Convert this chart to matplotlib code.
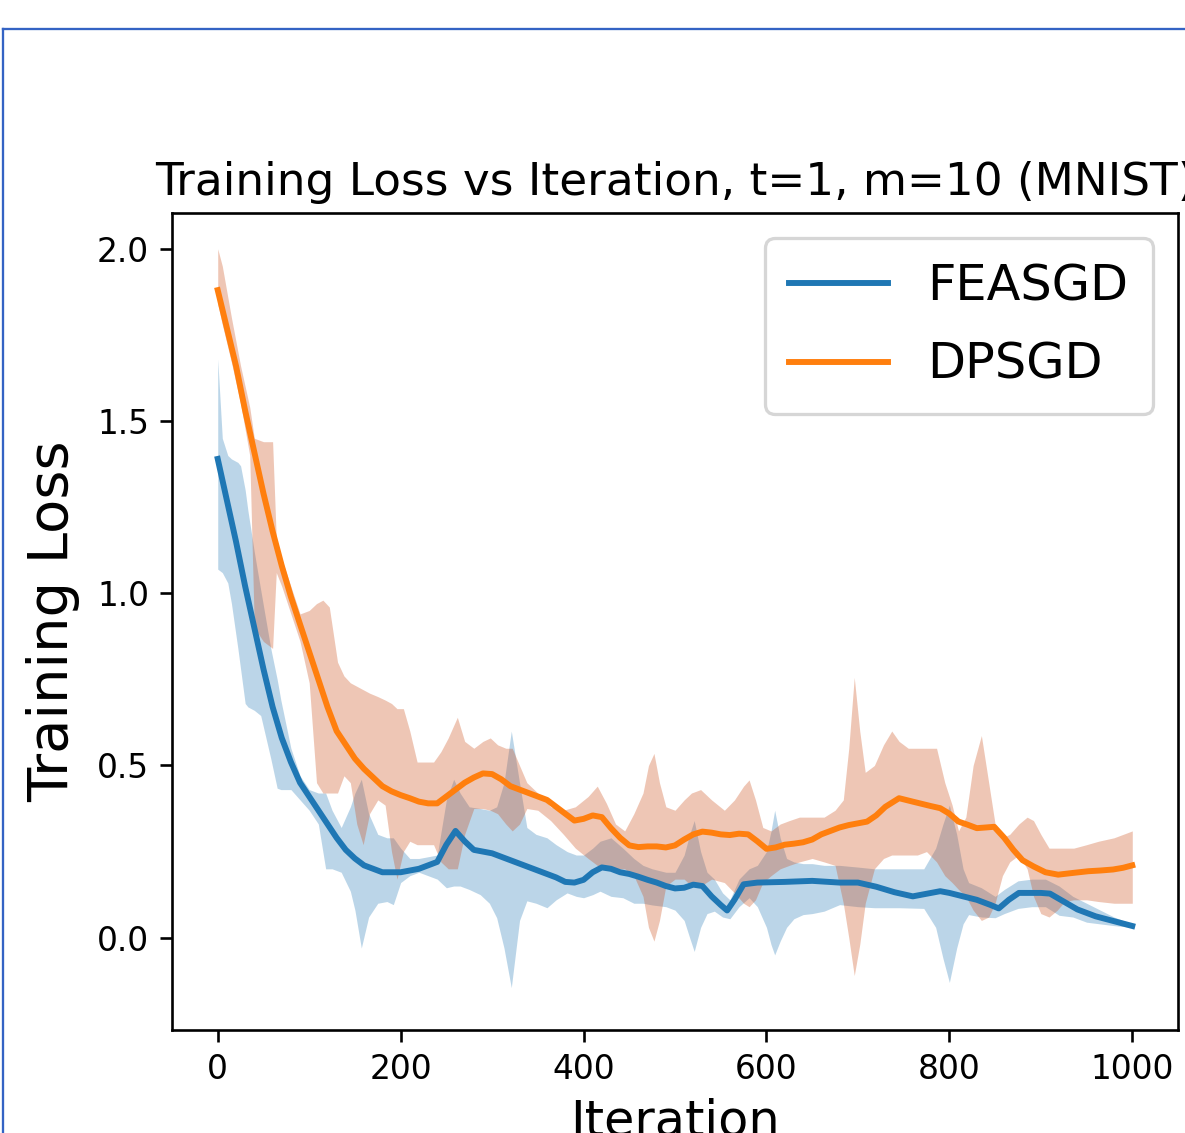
import matplotlib
matplotlib.use("Agg")
import matplotlib.pyplot as plt
from matplotlib.lines import Line2D

# ---------------- data ----------------
fe_x = [0, 10, 20, 30, 40, 50, 60, 70, 80, 90, 100, 110, 120, 130, 140, 150, 160, 170, 180,
        190, 200, 210, 220, 230, 240, 250, 260, 270, 280, 290, 300, 310, 320, 330, 340, 350,
        360, 370, 380, 390, 400, 410, 420, 430, 440, 450, 460, 470, 480, 490, 500, 510, 520,
        530, 540, 550, 557, 565, 575, 590, 620, 650, 680, 700, 720, 740, 760, 780, 790, 800,
        815, 830, 845, 854, 865, 876, 900, 910, 925, 940, 960, 980, 1000]
fe_mean = [1.39, 1.27, 1.15, 1.02, 0.90, 0.78, 0.67, 0.58, 0.51, 0.45, 0.41, 0.37, 0.33, 0.29,
           0.255, 0.23, 0.21, 0.20, 0.19, 0.19, 0.19, 0.195, 0.20, 0.21, 0.22, 0.27, 0.31, 0.28,
           0.255, 0.25, 0.245, 0.235, 0.225, 0.215, 0.205, 0.195, 0.185, 0.175, 0.162, 0.16,
           0.168, 0.19, 0.204, 0.20, 0.19, 0.185, 0.177, 0.168, 0.16, 0.15, 0.143, 0.145, 0.154,
           0.15, 0.12, 0.095, 0.079, 0.11, 0.155, 0.16, 0.162, 0.165, 0.16, 0.16, 0.148, 0.132,
           0.12, 0.13, 0.135, 0.13, 0.12, 0.11, 0.095, 0.085, 0.11, 0.13, 0.13, 0.128, 0.105,
           0.082, 0.062, 0.048, 0.034]

fe_bx = [0, 5, 11, 15, 22, 25, 30, 33, 40, 47, 58, 65, 69, 80, 90, 100, 110, 118, 125, 135,
         145, 150, 157, 165, 175, 185, 192, 200, 210, 220, 230, 240, 250, 258, 265, 275, 287, 297,
         305, 313, 321, 330, 338, 348, 360, 370, 382, 392, 400, 410, 418, 430, 443, 455, 465, 475,
         490, 500, 510, 516, 521, 528, 535, 543, 552, 560, 570, 581, 590, 600, 605, 609, 615, 622,
         630, 640, 650, 663, 680, 700, 718, 745, 772, 785, 793, 800, 808, 815, 821, 835, 850, 860,
         875, 890, 905, 920, 935, 950, 965, 980, 1000]
fe_upper = [1.68, 1.45, 1.40, 1.39, 1.38, 1.37, 1.30, 1.24, 1.12, 1.01, 0.84, 0.75, 0.69, 0.55,
            0.47, 0.43, 0.42, 0.42, 0.37, 0.32, 0.38, 0.42, 0.46, 0.36, 0.30, 0.29, 0.29, 0.26,
            0.23, 0.23, 0.235, 0.24, 0.40, 0.46, 0.42, 0.38, 0.375, 0.37, 0.38, 0.45, 0.60, 0.45,
            0.32, 0.30, 0.29, 0.27, 0.25, 0.24, 0.24, 0.26, 0.28, 0.29, 0.26, 0.23, 0.21, 0.20,
            0.19, 0.19, 0.24, 0.30, 0.34, 0.25, 0.19, 0.17, 0.13, 0.11, 0.17, 0.20, 0.21, 0.25,
            0.31, 0.37, 0.29, 0.23, 0.22, 0.215, 0.215, 0.21, 0.21, 0.205, 0.20, 0.20, 0.20, 0.26,
            0.33, 0.385, 0.30, 0.20, 0.16, 0.145, 0.12, 0.14, 0.165, 0.17, 0.17, 0.15, 0.12, 0.10,
            0.08, 0.06, 0.04]
fe_lower = [1.07, 1.06, 1.03, 0.97, 0.84, 0.78, 0.68, 0.67, 0.66, 0.645, 0.52, 0.434, 0.43,
            0.43, 0.40, 0.37, 0.33, 0.20, 0.20, 0.19, 0.135, 0.08, -0.03, 0.06, 0.10, 0.105,
            0.096, 0.16, 0.18, 0.19, 0.18, 0.17, 0.145, 0.15, 0.15, 0.14, 0.125, 0.10, 0.058,
            -0.03, -0.145, 0.05, 0.107, 0.10, 0.087, 0.11, 0.13, 0.12, 0.116, 0.125, 0.135, 0.12,
            0.116, 0.10, 0.10, 0.095, 0.09, 0.08, 0.05, 0.0, -0.04, 0.03, 0.07, 0.077, 0.06, 0.055,
            0.09, 0.116, 0.09, 0.03, -0.02, -0.05, -0.01, 0.03, 0.055, 0.067, 0.07, 0.077, 0.096,
            0.09, 0.087, 0.087, 0.085, 0.03, -0.06, -0.13, -0.03, 0.04, 0.067, 0.06, 0.058, 0.07,
            0.085, 0.09, 0.09, 0.065, 0.06, 0.045, 0.04, 0.035, 0.03]

dp_x = [0, 10, 20, 30, 40, 50, 60, 70, 80, 90, 100, 110, 120, 130, 140, 150, 160, 170, 180, 190,
        200, 210, 220, 230, 240, 250, 260, 270, 280, 290, 300, 310, 320, 330, 340, 350, 360, 370,
        380, 390, 400, 410, 420, 430, 440, 450, 460, 470, 480, 490, 500, 510, 520, 530, 540, 550,
        560, 570, 580, 590, 600, 610, 620, 630, 640, 650, 660, 670, 680, 690, 700, 710, 720, 730,
        745, 760, 780, 790, 800, 810, 820, 830, 840, 849, 860, 870, 880, 892, 905, 919, 935, 952,
        965, 979, 990, 1000]
dp_mean = [1.88, 1.77, 1.66, 1.53, 1.41, 1.29, 1.18, 1.08, 0.99, 0.91, 0.83, 0.75, 0.67, 0.60,
           0.56, 0.52, 0.49, 0.465, 0.44, 0.425, 0.414, 0.405, 0.395, 0.39, 0.39, 0.41, 0.43, 0.45,
           0.465, 0.477, 0.475, 0.46, 0.44, 0.43, 0.42, 0.41, 0.40, 0.38, 0.36, 0.34, 0.345, 0.355,
           0.35, 0.318, 0.29, 0.268, 0.263, 0.265, 0.265, 0.262, 0.268, 0.285, 0.30, 0.308, 0.305,
           0.30, 0.298, 0.302, 0.30, 0.28, 0.258, 0.262, 0.27, 0.273, 0.277, 0.285, 0.30, 0.31,
           0.32, 0.327, 0.332, 0.337, 0.355, 0.38, 0.405, 0.395, 0.382, 0.376, 0.36, 0.337, 0.328,
           0.318, 0.32, 0.322, 0.29, 0.255, 0.225, 0.207, 0.19, 0.183, 0.188, 0.193, 0.195, 0.198,
           0.203, 0.21]

dp_bx = [0, 5, 15, 25, 35, 40, 50, 60, 64, 70, 80, 90, 100, 108, 115, 122, 131, 138, 145, 152,
         159, 166, 175, 183, 190, 196, 203, 210, 218, 228, 236, 244, 252, 262, 270, 280, 290, 298,
         306, 315, 322, 330, 338, 350, 364, 378, 391, 405, 415, 425, 435, 445, 455, 465, 471, 477,
         483, 490, 500, 510, 518, 528, 540, 554, 565, 575, 581, 588, 596, 605, 615, 625, 636, 650,
         663, 675, 684, 690, 696, 702, 708, 718, 728, 737, 745, 755, 765, 775, 786, 795, 803, 810,
         818, 826, 835, 843, 850, 858, 866, 876, 885, 892, 900, 909, 918, 926, 936, 950, 963, 980,
         1000]
dp_upper = [2.00, 1.95, 1.80, 1.66, 1.54, 1.45, 1.44, 1.44, 1.16, 1.10, 1.02, 0.94, 0.95, 0.97,
            0.98, 0.96, 0.80, 0.76, 0.74, 0.73, 0.72, 0.71, 0.70, 0.69, 0.68, 0.665, 0.665, 0.60,
            0.51, 0.51, 0.51, 0.54, 0.58, 0.64, 0.57, 0.55, 0.57, 0.58, 0.56, 0.55, 0.55, 0.50,
            0.45, 0.42, 0.38, 0.37, 0.38, 0.41, 0.44, 0.39, 0.33, 0.31, 0.36, 0.42, 0.50, 0.535,
            0.45, 0.38, 0.37, 0.40, 0.42, 0.43, 0.40, 0.37, 0.40, 0.44, 0.458, 0.40, 0.32, 0.31,
            0.33, 0.34, 0.35, 0.35, 0.35, 0.37, 0.40, 0.55, 0.756, 0.60, 0.48, 0.50, 0.56, 0.60,
            0.57, 0.55, 0.55, 0.55, 0.55, 0.45, 0.385, 0.31, 0.35, 0.50, 0.587, 0.45, 0.33, 0.29,
            0.30, 0.33, 0.35, 0.34, 0.30, 0.26, 0.26, 0.26, 0.26, 0.27, 0.28, 0.29, 0.31]
dp_lower = [1.84, 1.78, 1.67, 1.55, 1.40, 0.90, 0.86, 0.84, 1.06, 1.02, 0.94, 0.86, 0.74, 0.45,
            0.42, 0.42, 0.42, 0.47, 0.45, 0.33, 0.27, 0.36, 0.40, 0.385, 0.25, 0.17, 0.25, 0.28,
            0.27, 0.27, 0.27, 0.22, 0.20, 0.20, 0.30, 0.375, 0.375, 0.37, 0.36, 0.33, 0.31, 0.33,
            0.375, 0.37, 0.34, 0.30, 0.26, 0.23, 0.21, 0.20, 0.20, 0.20, 0.18, 0.12, 0.03, -0.01,
            0.05, 0.15, 0.17, 0.17, 0.15, 0.15, 0.17, 0.16, 0.13, 0.10, 0.09, 0.11, 0.16, 0.18,
            0.20, 0.21, 0.22, 0.23, 0.22, 0.21, 0.10, 0.0, -0.11, -0.02, 0.10, 0.20, 0.23, 0.24,
            0.24, 0.24, 0.24, 0.25, 0.22, 0.18, 0.16, 0.14, 0.12, 0.08, 0.05, 0.06, 0.10, 0.18,
            0.22, 0.24, 0.20, 0.12, 0.07, 0.06, 0.08, 0.105, 0.11, 0.11, 0.105, 0.10, 0.10]

labels = ["FEASGD", "DPSGD"]
title = "Training Loss vs Iteration, t=1, m=10 (MNIST)"
xticks = [0, 200, 400, 600, 800, 1000]
yticks = [0.0, 0.5, 1.0, 1.5, 2.0]

# ---------------- figure ----------------
DPI = 237
fig = plt.figure(figsize=(1185 / DPI, 1133 / DPI), dpi=DPI)
ax = fig.add_axes([172 / 1185, 1 - 1030 / 1133, (1178 - 172) / 1185, (1030 - 213) / 1133])

ax.plot(fe_x, fe_mean, color="#1f77b4", lw=1.8, label=labels[0])
ax.fill_between(fe_bx, fe_lower, fe_upper, color="#1f77b4", alpha=0.3, lw=0)
ax.plot(dp_x, dp_mean, color="#ff7f0e", lw=1.8, label=labels[1])
ax.fill_between(dp_bx, dp_lower, dp_upper, color="#CC4F1B", alpha=0.32, lw=0)

ax.set_xlim(-50, 1050)
ax.set_ylim(-0.268, 2.104)
ax.set_xticks(xticks)
ax.set_yticks(yticks)
ax.tick_params(labelsize=10)
ax.set_title(title, fontsize=13.8, pad=5.5)
ax.set_xlabel("Iteration", fontsize=15, labelpad=3.5)
ax.set_ylabel("Training Loss", fontsize=17, labelpad=5)
ax.legend(loc="upper right", fontsize=15, labelspacing=0.62, borderpad=0.5)

# blue frame of the screenshot
bc = "#3463c4"
fig.add_artist(Line2D([3 / 1185, 3 / 1185], [1 - 29 / 1133, 0], color=bc, lw=0.7,
                      transform=fig.transFigure))
fig.add_artist(Line2D([3 / 1185, 1], [1 - 29 / 1133, 1 - 29 / 1133], color=bc, lw=0.7,
                      transform=fig.transFigure))

fig.savefig("out.png", dpi=DPI)
